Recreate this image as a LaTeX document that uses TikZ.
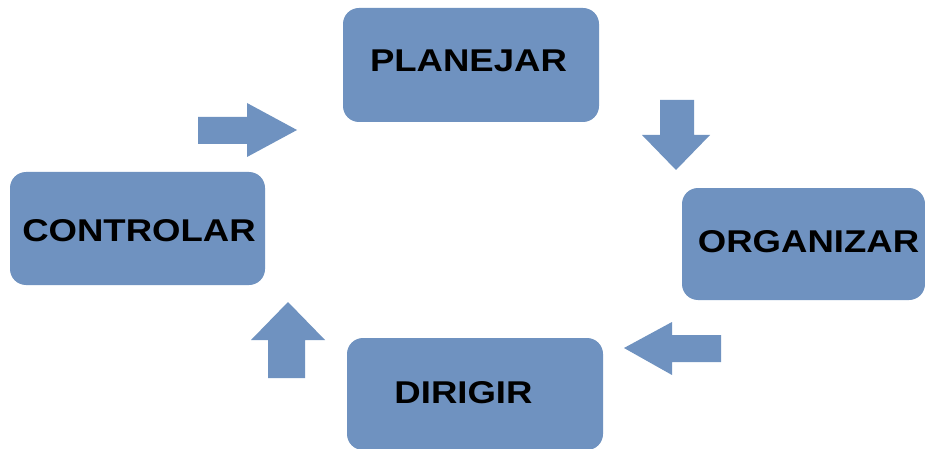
\documentclass[tikz,border=0pt]{standalone}
\usepackage{fontspec}
\setmainfont{Liberation Sans}
\usepackage{graphicx}
\definecolor{boxblue}{RGB}{111,146,192}
\tikzset{
  box/.style={fill=boxblue, draw=none, rounded corners=16pt},
  blockarrow/.style={fill=boxblue, draw=none},
  lbl/.style={inner sep=0pt, font=\fontsize{31.5}{34}\selectfont\bfseries, text=black}
}
\newcommand{\wide}[1]{\scalebox{1.16}[1]{#1}}
\begin{document}
\begin{tikzpicture}[x=1pt,y=-1pt]
\useasboundingbox (0,0) rectangle (925,449);
\clip (0,0) rectangle (925,449);
\fill[white] (0,0) rectangle (925,449);
% boxes
\draw[box] (343,8) rectangle (599,122);
\draw[box] (10,172) rectangle (265,285);
\draw[box] (682,188) rectangle (925,300);
\draw[box] (347,338) rectangle (603,450);
% labels
\node[lbl] (planejar) at (468.5,60.5) {\wide{PLANEJAR}};
\node[lbl] (controlar) at (139,230.5) {\wide{CONTROLAR}};
\node[lbl] (organizar) at (808.5,242) {\wide{ORGANIZAR}};
\node[lbl] (dirigir) at (463.5,392.5) {\wide{DIRIGIR}};
% block arrows
\fill[blockarrow] (198,117) -- (247,117) -- (247,103) -- (297,130) -- (247,157) -- (247,144) -- (198,144) -- cycle;
\fill[blockarrow] (660,100) -- (694,100) -- (694,135) -- (710,135) -- (676,170) -- (642,135) -- (660,135) -- cycle;
\fill[blockarrow] (721,335) -- (672,335) -- (672,322) -- (624,348) -- (672,375) -- (672,362) -- (721,362) -- cycle;
\fill[blockarrow] (268,378) -- (268,340) -- (251,340) -- (288,302) -- (325,340) -- (305,340) -- (305,378) -- cycle;
\end{tikzpicture}
\end{document}
